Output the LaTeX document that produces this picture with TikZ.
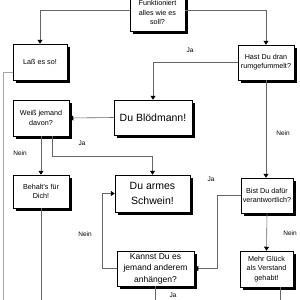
\documentclass[tikz,border=0pt]{standalone}
\usepackage{fontspec}
\setmainfont{Liberation Sans}
\usetikzlibrary{arrows.meta,shadows}
\tikzset{
  frage/.style={rectangle, draw=black, line width=0.5pt, fill=white, align=center,
                font=\fontsize{7.2}{9.2}\selectfont, inner sep=1pt,
                drop shadow={shadow xshift=3pt, shadow yshift=-3pt, fill=black, opacity=1}},
  urteil/.style={frage, font=\fontsize{10.5}{15}\selectfont},
  antwort/.style={font=\fontsize{6.5}{8}\selectfont, inner sep=0pt},
  conn/.style={draw=black!60, line width=0.6pt},
  arr/.style={conn, -{Triangle[length=4pt,width=5pt,color=black]}},
  rand/.style={draw=black!35, line width=0.9pt}
}
\begin{document}
\begin{tikzpicture}[x=1pt, y=-1pt]
\useasboundingbox (0,0) rectangle (300,300);
\coordinate (unten) at (0,306);
\coordinate (randunten) at (3,306);

\node[frage, minimum width=55pt, minimum height=37pt] (ok) at (157.5,12.5) {Funktioniert\\alles wie es\\soll?};
\node[frage, minimum width=54pt, minimum height=36pt] (lass) at (40,62) {Laß es so!};
\node[frage, minimum width=56pt, minimum height=35pt] (hast) at (266,62.5) {Hast Du dran\\rumgefummelt?};
\node[urteil, minimum width=78pt, minimum height=35pt] (bloed) at (153,117.5) {Du Blödmann!};
\node[frage, minimum width=56pt, minimum height=36pt] (weiss) at (41,118) {Weiß jemand\\davon?};
\node[frage, minimum width=56pt, minimum height=33pt] (behalt) at (41,191.5) {Behalt's für\\Dich!};
\node[urteil, minimum width=75pt, minimum height=37pt] (schwein) at (152.5,193.5) {Du armes\\Schwein!};
\node[frage, minimum width=52pt, minimum height=35pt] (bist) at (267,195.5) {Bist Du dafür\\verantwortlich?};
\node[frage, minimum width=77pt, minimum height=35pt, font=\fontsize{8.5}{11.5}\selectfont] (kannst) at (155.5,268.5) {Kannst Du es\\jemand anderem\\anhängen?};
\node[frage, minimum width=53pt, minimum height=36pt] (mehr) at (266.5,269) {Mehr Glück\\als Verstand\\gehabt!};

\draw[arr] ([yshift=2.5pt]ok.west) -| (lass.north);
\draw[arr] ([yshift=2.5pt]ok.east) -| (hast.north);
\draw[arr] (hast.west) -| (bloed.north);
\draw[arr] (bloed.west) -- (weiss.east);
\draw[arr] (weiss.south) -- (behalt.north);
\draw[arr] ([xshift=11pt]weiss.south) -- ++(0,20) -| (schwein.north);
\draw[conn] (behalt.south) -- (behalt.south |- unten);
\draw[rand] ([yshift=-10pt]lass.west) -| (randunten);
\draw[arr] (hast.south) -- (hast.south |- bist.north);
\draw[arr] (bist.west) -- ++(-23,0) |- (kannst.east);
\draw[arr] (kannst.west) -- ++(-14,0) |- (schwein.west);
\draw[arr] (bist.south) -- (mehr.north);
\draw[conn] ([xshift=13.5pt]mehr.south) -- ([xshift=13.5pt]mehr.south |- unten);
\draw[conn] (kannst.south) -- (kannst.south |- unten);

\node[antwort] (ja1) at (190,50) {Ja};
\node[antwort] (ja2) at (82,143) {Ja};
\node[antwort] (nein1) at (20,153) {Nein};
\node[antwort] (nein2) at (283,133) {Nein};
\node[antwort] (ja3) at (211,179) {Ja};
\node[antwort] (nein3) at (85,234) {Nein};
\node[antwort] (nein4) at (290,233) {Nein};
\node[antwort] (ja4) at (173,295.5) {Ja};
\end{tikzpicture}
\end{document}
